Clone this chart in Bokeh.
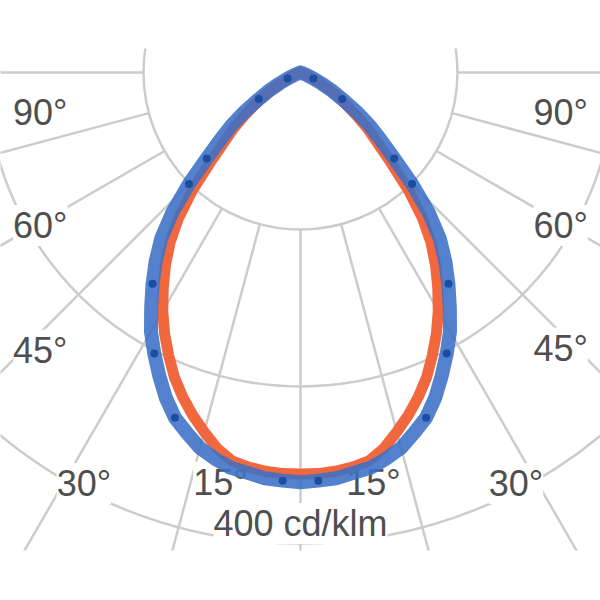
import numpy as np
from bokeh.plotting import figure
from bokeh.models import ColumnDataSource, Range1d, LabelSet
from bokeh.embed import file_html
from bokeh.resources import INLINE
from bokeh.core.properties import value

# ---- data (cd/klm), angle measured from nadir ----
angles_deg = [0, 2.5, 5, 7.5, 10, 12.5, 15, 17.5, 20, 22.5, 25, 27.5, 30, 32.5, 35, 37.5,
              40, 42.5, 45, 47.5, 50, 52.5, 55, 57.5, 60, 62.5, 65, 67.5, 70, 72.5, 75,
              80, 85, 90]
c0_c180 = [341, 341, 340, 338, 335, 327, 316, 305, 293, 280, 265, 250, 234, 217, 200, 182,
           161, 136, 109, 89, 75, 60, 47, 36, 26, 16, 9, 4, 2, 0.5, 0,
           0, 0, 0]
c90_c270 = [348, 347, 346, 343, 341, 336, 330, 321, 312, 299, 284, 269, 254, 236, 219, 202,
            184, 161, 134, 108, 89, 74, 58, 42, 31, 20, 12, 6, 2.5, 1, 0,
            0, 0, 0]
dot_angles = [2.5, 20, 27.5, 35, 45, 47.5, 57.5, 65]

ring_values = [400 / 3, 800 / 3, 400]
spoke_angles = [-90, -75, -60, -45, -30, -15, 0, 15, 30, 45, 60, 75, 90]

label_texts = ["90°", "60°", "45°", "30°", "15°", "15°", "30°", "45°", "60°", "90°"]
unit_label = "400 cd/klm"

# layout positions for labels (data units)
label_x = [-221, -221, -221, -184, -68, 62, 183, 221, 221, 221]
label_y = [-34, -130, -236, -349, -348, -348, -349, -234, -130, -34]

p = figure(width=600, height=600, output_backend="svg", toolbar_location=None,
           x_range=Range1d(-254.8, 254.8), y_range=Range1d(-406, 20.4),
           x_axis_location=None, y_axis_location=None,
           min_border_left=0, min_border_right=0, min_border_top=48, min_border_bottom=50)
p.grid.visible = False
p.outline_line_color = None
p.background_fill_color = "white"
p.border_fill_color = "white"

grid_col = "#cccccc"
# rings
p.circle(x=[0] * len(ring_values), y=[0] * len(ring_values), radius=ring_values,
         fill_color=None, line_color=grid_col, line_width=2.5)
# spokes from the inner ring outward
r_in = ring_values[0]
r_out = 900
sa = np.radians(spoke_angles)
p.segment(x0=r_in * np.sin(sa), y0=-r_in * np.cos(sa),
          x1=r_out * np.sin(sa), y1=-r_out * np.cos(sa),
          line_color=grid_col, line_width=2.5)

src = ColumnDataSource(dict(x=label_x + [0], y=label_y + [-383], t=label_texts + [unit_label]))
labels = LabelSet(x="x", y="y", text="t", source=src, text_align="center", text_baseline="middle",
                  text_font=value("Liberation Sans"), text_font_size="36px", text_color="#4f4f4f",
                  background_fill_color="white", background_fill_alpha=1.0)
p.add_layout(labels)

def full_curve(vals):
    a = np.array(angles_deg, dtype=float)
    v = np.array(vals, dtype=float)
    th = np.radians(np.concatenate([-a[::-1], a[1:]]))
    r = np.concatenate([v[::-1], v[1:]])
    return r * np.sin(th), -r * np.cos(th)

ox, oy = full_curve(c0_c180)
bx, by = full_curve(c90_c270)

p.line(ox, oy, line_color="#f2683e", line_width=11, line_join="round", line_cap="round",
       level="overlay")
p.line(bx, by, line_color="#3b70c7", line_width=14, line_alpha=0.88,
       line_join="round", line_cap="round", level="overlay")

# dark dots on blue curve
da = []
dv = []
for a in dot_angles:
    i = angles_deg.index(a)
    da += [-a, a]
    dv += [c90_c270[i], c90_c270[i]]
da = np.radians(da)
dv = np.array(dv, dtype=float)
p.scatter(dv * np.sin(da), -dv * np.cos(da), size=8, color="#1b4ea3", line_color=None,
          level="overlay")

open("out.html", "w").write(file_html(p, INLINE))
